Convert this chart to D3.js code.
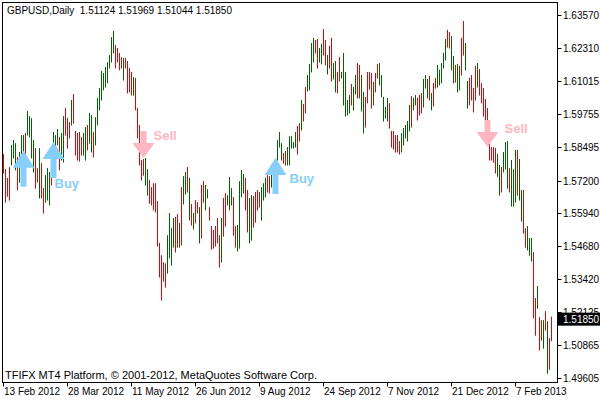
<!DOCTYPE html>
<html><head><meta charset="utf-8">
<script src="https://cdn.jsdelivr.net/npm/d3@7"></script>
<style>body{margin:0;background:#fff}svg{display:block}text{font-family:"Liberation Sans",Arial,sans-serif}</style>
</head><body>
<svg id="c" width="600" height="400"></svg>
<script>
const highs=[1.5822,1.5764,1.5730,1.5772,1.5857,1.5876,1.5864,1.5811,1.5830,1.5895,1.5895,1.5903,1.5988,1.5968,1.5960,1.5876,1.5845,1.5768,1.5845,1.5787,
1.5691,1.5741,1.5768,1.5753,1.5807,1.5907,1.5895,1.5918,1.5888,1.5903,1.5968,1.5999,1.5961,1.5945,1.6030,1.6053,1.5911,1.5903,1.5907,1.5888,
1.5903,1.5926,1.5934,1.5980,1.5972,1.5907,1.5964,1.6038,1.6076,1.6142,1.6134,1.6157,1.6176,1.6203,1.6272,1.6296,1.6242,1.6230,1.6211,1.6195,
1.6192,1.6192,1.6180,1.6153,1.6138,1.6118,1.6115,1.5999,1.5934,1.5799,1.5803,1.5807,1.5764,1.5722,1.5695,1.5710,1.5710,1.5641,1.5480,1.5433,
1.5406,1.5402,1.5510,1.5595,1.5537,1.5576,1.5580,1.5591,1.5557,1.5695,1.5737,1.5753,1.5772,1.5730,1.5630,1.5595,1.5645,1.5637,1.5618,1.5703,
1.5718,1.5703,1.5687,1.5618,1.5545,1.5530,1.5545,1.5576,1.5510,1.5576,1.5653,1.5672,1.5664,1.5734,1.5691,1.5657,1.5545,1.5549,1.5718,1.5761,
1.5745,1.5730,1.5684,1.5653,1.5664,1.5660,1.5676,1.5684,1.5676,1.5695,1.5710,1.5730,1.5749,1.5737,1.5757,1.5780,1.5799,1.5876,1.5907,1.5864,
1.5826,1.5834,1.5849,1.5891,1.5891,1.5868,1.5907,1.5930,1.5941,1.6030,1.6015,1.6080,1.6126,1.6169,1.6249,1.6269,1.6261,1.6265,1.6230,1.6246,
1.6303,1.6261,1.6203,1.6238,1.6269,1.6172,1.6180,1.6138,1.6196,1.6138,1.6211,1.6138,1.6030,1.6049,1.6092,1.6080,1.6126,1.6172,1.6165,1.6126,
1.6061,1.6042,1.6138,1.6138,1.6134,1.6099,1.6134,1.6169,1.6172,1.6126,1.6042,1.6003,1.6038,1.6018,1.5911,1.5911,1.5895,1.5895,1.5872,1.5903,
1.5922,1.5934,1.5949,1.6011,1.6045,1.6038,1.6049,1.6038,1.6049,1.6057,1.6111,1.6126,1.6111,1.6122,1.6057,1.6096,1.6115,1.6165,1.6146,1.6172,
1.6211,1.6265,1.6300,1.6292,1.6276,1.6199,1.6165,1.6169,1.6161,1.6269,1.6334,1.6249,1.6103,1.6115,1.6126,1.6076,1.6161,1.6172,1.6149,1.6096,
1.6076,1.6034,1.5999,1.5953,1.5849,1.5849,1.5845,1.5822,1.5780,1.5772,1.5830,1.5868,1.5872,1.5768,1.5799,1.5764,1.5838,1.5838,1.5803,1.5684,
1.5684,1.5537,1.5545,1.5499,1.5499,1.5445,1.5268,1.5314,1.5195,1.5183,1.5183,1.5218,1.5179,1.5114,1.5197];
const lows=[1.5749,1.5637,1.5660,1.5645,1.5780,1.5807,1.5761,1.5684,1.5714,1.5780,1.5807,1.5818,1.5895,1.5888,1.5807,1.5753,1.5691,1.5714,1.5653,1.5653,
1.5595,1.5637,1.5645,1.5626,1.5703,1.5807,1.5818,1.5857,1.5761,1.5799,1.5791,1.5895,1.5845,1.5884,1.5934,1.5941,1.5818,1.5799,1.5795,1.5818,
1.5818,1.5799,1.5838,1.5864,1.5830,1.5811,1.5857,1.5934,1.5992,1.6030,1.6069,1.6080,1.6096,1.6153,1.6176,1.6211,1.6153,1.6176,1.6146,1.6153,
1.6107,1.6153,1.6057,1.6061,1.6049,1.6049,1.5992,1.5884,1.5780,1.5722,1.5741,1.5703,1.5664,1.5633,1.5626,1.5607,1.5599,1.5468,1.5349,1.5260,
1.5333,1.5310,1.5364,1.5422,1.5395,1.5464,1.5445,1.5464,1.5464,1.5472,1.5630,1.5668,1.5676,1.5568,1.5549,1.5533,1.5557,1.5595,1.5480,1.5499,
1.5637,1.5607,1.5653,1.5568,1.5456,1.5460,1.5468,1.5480,1.5387,1.5406,1.5506,1.5545,1.5626,1.5607,1.5626,1.5510,1.5464,1.5449,1.5460,1.5657,
1.5672,1.5607,1.5522,1.5480,1.5491,1.5541,1.5560,1.5607,1.5618,1.5568,1.5645,1.5657,1.5676,1.5672,1.5695,1.5672,1.5734,1.5799,1.5849,1.5799,
1.5787,1.5780,1.5780,1.5780,1.5845,1.5845,1.5849,1.5822,1.5872,1.5915,1.5949,1.5980,1.6065,1.6069,1.6138,1.6176,1.6211,1.6153,1.6176,1.6169,
1.6203,1.6165,1.6130,1.6153,1.6103,1.6111,1.6061,1.6057,1.6103,1.6115,1.6011,1.5968,1.5972,1.5980,1.6011,1.5992,1.6053,1.6038,1.6038,1.5988,
1.5903,1.5926,1.6019,1.6072,1.5999,1.6011,1.6061,1.6115,1.6088,1.6042,1.5949,1.5961,1.5949,1.5922,1.5849,1.5841,1.5830,1.5830,1.5822,1.5830,
1.5857,1.5884,1.5872,1.5911,1.5926,1.5992,1.6011,1.5953,1.5972,1.5980,1.6003,1.6076,1.6038,1.6030,1.5992,1.6007,1.6076,1.6080,1.6088,1.6096,
1.6153,1.6184,1.6234,1.6230,1.6146,1.6096,1.6099,1.6061,1.6069,1.6126,1.6203,1.6146,1.5999,1.6011,1.6030,1.5984,1.6030,1.6080,1.6049,1.6019,
1.5968,1.5953,1.5945,1.5799,1.5799,1.5791,1.5749,1.5737,1.5664,1.5676,1.5753,1.5764,1.5691,1.5676,1.5622,1.5622,1.5637,1.5664,1.5645,1.5564,
1.5518,1.5464,1.5453,1.5433,1.5410,1.5191,1.5125,1.5229,1.5068,1.5106,1.5075,1.5145,1.4979,1.4994,1.5104];
const dirs="dddduuuduuuduuuuddudduuuduuuduuddduddddduuduuduuuuuuuuuuddddudddduddddduuddddddddduuuudduduudududdudduuddddddudduuudduuuudduudddduuuddudduuudduuuuuddudduuuudduuddudduudduuuuuduudduuddddudduuuuudddddduuuuuduuddduuududduuuuudduuduudduudddduddddddddduuduuuduuuduudduuudduddududdddudududuuuduu";
const dateLabels=["13 Feb 2012","28 Mar 2012","11 May 2012","26 Jun 2012","9 Aug 2012","24 Sep 2012","7 Nov 2012","21 Dec 2012","7 Feb 2013"];
const dateIdx=[0,32,64,96,128,160,192,224,256];
const priceTicks=[1.63570,1.62310,1.61015,1.59755,1.58495,1.57200,1.55940,1.54680,1.53420,1.52125,1.50865,1.49605];
const signalType=["buy","buy","sell","buy","sell"];
const signalBar=[10,25,70,136,242];
const signalPrice=[1.5835,1.5868,1.5807,1.5807,1.5849];
const signalText=["","Buy","Sell","Buy","Sell"];
const header="GBPUSD,Daily  1.51124 1.51969 1.51044 1.51850", lastClose=1.51850;
const labelOffset=[[0,0],[1,46],[10,-18],[14,25],[17,-14]];

const svg=d3.select("#c");
const x=d3.scaleLinear().domain([0,1]).range([3.5,5.5]);
const y=d3.scaleLinear().domain([1.63570,1.49605]).range([15,378]);
const L=2.5,R=557.5,T=2.5,B=382.5;
svg.append("rect").attr("x",L).attr("y",T).attr("width",R-L).attr("height",B-T).attr("fill","none").attr("stroke","#000");
svg.append("g").selectAll("line").data(highs).join("line")
 .attr("x1",(d,i)=>x(i)).attr("x2",(d,i)=>x(i))
 .attr("y1",d=>y(d)).attr("y2",(d,i)=>y(lows[i])+0.5)
 .attr("stroke",(d,i)=>dirs[i]==="u"?"#006400":"#ee0000").attr("stroke-width",1);
const ra=svg.append("g");
priceTicks.forEach(p=>{
 const yy=Math.round(y(p))+0.5;
 ra.append("line").attr("x1",R).attr("x2",R+4).attr("y1",yy).attr("y2",yy).attr("stroke","#000");
 ra.append("text").attr("x",563).attr("y",yy+3.5).attr("font-size",10).text(p.toFixed(5));
});
const yc=y(lastClose);
ra.append("rect").attr("x",R).attr("y",yc-7).attr("width",43).attr("height",13).attr("fill","#000");
ra.append("text").attr("x",563).attr("y",yc+3.5).attr("font-size",10).attr("fill","#fff").text(lastClose.toFixed(5));
const ba=svg.append("g");
dateIdx.forEach((ix,k)=>{
 const xx=Math.round(x(ix)-0.5)+0.5;
 ba.append("line").attr("x1",xx).attr("x2",xx).attr("y1",B).attr("y2",B+4).attr("stroke","#000");
 ba.append("text").attr("x",xx+0.5).attr("y",395).attr("font-size",10).text(dateLabels[k]);
});
svg.append("text").attr("x",7).attr("y",14).attr("font-size",10).attr("xml:space","preserve").text(header);
svg.append("text").attr("x",5).attr("y",379).attr("font-size",11).text("TFIFX MT4 Platform, © 2001-2012, MetaQuotes Software Corp.");
signalType.forEach((t,k)=>{
 const cx=x(signalBar[k]), ty=y(signalPrice[k]);
 const pts=t==="buy"?[[0,0],[11,17],[3,17],[3,36],[-3,36],[-3,17],[-11,17]]
                    :[[0,0],[11,-15],[3,-15],[3,-27],[-3,-27],[-3,-15],[-11,-15]];
 const col=t==="buy"?"#87CEFA":"#FFB6C1";
 svg.append("path").attr("d",d3.line()(pts.map(q=>[cx+q[0],ty+q[1]]))+"Z").attr("fill",col);
 if(signalText[k]) svg.append("text").attr("x",cx+labelOffset[k][0]).attr("y",ty+labelOffset[k][1])
   .attr("font-size",13).attr("font-weight","bold").attr("fill",col).text(signalText[k]);
});
</script></body></html>
